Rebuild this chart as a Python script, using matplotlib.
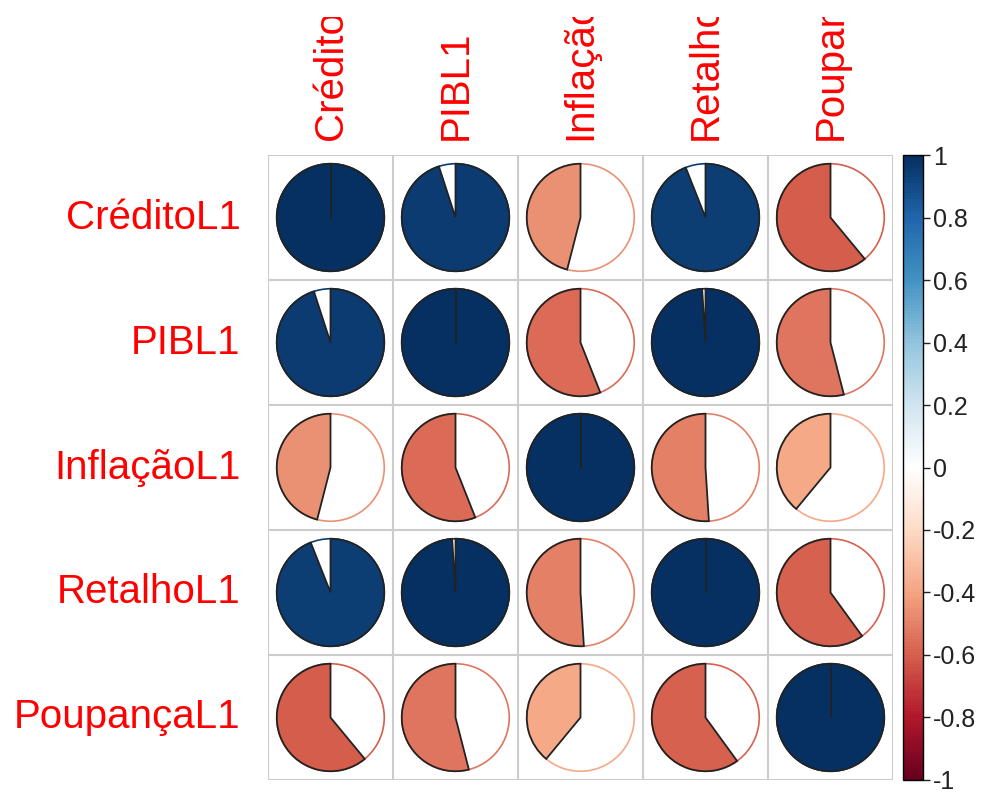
import matplotlib.pyplot as plt
import numpy as np
from matplotlib.colors import LinearSegmentedColormap, Normalize
from matplotlib.patches import Circle, Wedge
from matplotlib.colorbar import ColorbarBase
from matplotlib.transforms import Bbox, TransformedBbox

plt.rcParams['font.family'] = ['Liberation Sans', 'DejaVu Sans']

row_names = ['CréditoL1', 'PIBL1', 'InflaçãoL1', 'RetalhoL1', 'PoupançaL1']
col_names = ['CréditoL1', 'PIBL1', 'InflaçãoL1', 'RetalhoL1', 'PoupançaL1']

corr = np.array([
    [1.00, 0.95, -0.46, 0.94, -0.61],
    [0.95, 1.00, -0.56, 0.99, -0.54],
    [-0.46, -0.56, 1.00, -0.51, -0.39],
    [0.94, 0.99, -0.51, 1.00, -0.60],
    [-0.61, -0.54, -0.39, -0.60, 1.00],
])

cbar_ticks = [-1, -0.8, -0.6, -0.4, -0.2, 0, 0.2, 0.4, 0.6, 0.8, 1]
cbar_labels = ['-1', '-0.8', '-0.6', '-0.4', '-0.2', '0', '0.2', '0.4', '0.6', '0.8', '1']

# corrplot's default diverging palette
cmap = LinearSegmentedColormap.from_list('corr', [
    '#67001F', '#B2182B', '#D6604D', '#F4A582', '#FDDBC7', '#FFFFFF',
    '#D1E5F0', '#92C5DE', '#4393C3', '#2166AC', '#053061'], N=200)
norm = Normalize(-1, 1)

fig = plt.figure(figsize=(9.81, 7.98), dpi=100)
ax = fig.add_axes([0.2732, 0.02256, 0.6371, 0.7832])
ax.set_xlim(0, 5)
ax.set_ylim(0, 5)
ax.axis('off')

n = len(row_names)
grid_col = '#cccccc'
for k in range(n + 1):
    ax.plot([k, k], [0, n], color=grid_col, lw=1.5, zorder=1)
    ax.plot([0, n], [k, k], color=grid_col, lw=1.5, zorder=1)

radius = 0.43
for i in range(n):
    for j in range(n):
        r = corr[i, j]
        cx, cy = j + 0.5, n - i - 0.5
        col = cmap(norm(r))
        ax.add_patch(Circle((cx, cy), radius, facecolor='white', edgecolor=col, lw=1.2, zorder=2))
        ang = 360 * abs(r)
        if r >= 0:
            t1, t2 = 90 - ang, 90
        else:
            t1, t2 = 90, 90 + ang
        ax.add_patch(Wedge((cx, cy), radius, t1, t2, facecolor=col, edgecolor='#222222',
                           lw=1.3, zorder=3))
        if abs(r) >= 0.999:
            # full pie: keep the start radius visible
            ax.plot([cx, cx], [cy, cy + radius], color='#222222', lw=1.3, zorder=4)

for i, name in enumerate(row_names):
    ax.text(-0.22, n - i - 0.5, name, color='red', fontsize=29, ha='right', va='center')

# column labels run off the top of the canvas
top_clip = TransformedBbox(Bbox([[0, 0], [1, 1 - 17 / 798]]), fig.transFigure)
for j, name in enumerate(col_names):
    t = ax.text(j + 0.5, 5.12, name, color='red', fontsize=29, rotation=90,
                ha='center', va='bottom', clip_on=True)
    t.set_clip_box(top_clip)

cax = fig.add_axes([0.9205, 0.02256, 0.0204, 0.7832])
cb = ColorbarBase(cax, cmap=cmap, norm=norm, orientation='vertical')
cb.outline.set_linewidth(1.0)
cb.set_ticks(cbar_ticks)
cb.set_ticklabels(cbar_labels)
cax.tick_params(labelsize=18, length=5, width=1, pad=2, colors='#222222')

fig.savefig('out.png', dpi=100)
